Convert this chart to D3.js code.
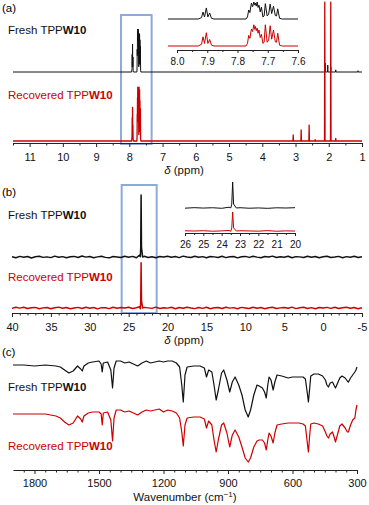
<!DOCTYPE html>
<html>
<head>
<meta charset="utf-8">
<script src="https://cdn.jsdelivr.net/npm/d3@7"></script>
<style>
  body { margin: 0; background: #fff; }
  text { font-family: "Liberation Sans", Arial, sans-serif; }
</style>
</head>
<body>
<script>
// ---------- data ----------
// (a) 1H NMR, aromatic region [ppm, intensity]
var hFreshArom = [
  [7.930,0],[7.919,0.08],[7.914,0.41],[7.909,0.12],[7.903,0.65],[7.898,0.12],[7.892,0.35],[7.886,0.04],[7.878,0],
  [7.772,0],[7.767,0.12],[7.763,0.53],[7.759,0.38],[7.754,0.94],[7.750,0.72],[7.746,1.0],[7.743,0.82],[7.741,0.94],
  [7.738,0.76],[7.735,1.0],[7.732,0.68],[7.729,0.82],[7.725,0.42],[7.721,0.7],[7.716,0.12],[7.712,0.18],[7.708,0.9],
  [7.702,0.18],[7.697,0.28],[7.692,0.88],[7.687,0.32],[7.681,0.75],[7.675,0.2],[7.671,0.18],[7.667,0.6],[7.661,0.04],[7.652,0]
];
var hRecArom = [
  [7.930,0],[7.919,0.1],[7.914,0.54],[7.909,0.15],[7.903,0.78],[7.898,0.15],[7.892,0.38],[7.886,0.05],[7.878,0],
  [7.772,0],[7.767,0.15],[7.763,0.62],[7.759,0.45],[7.754,1.0],[7.750,0.85],[7.746,1.25],[7.743,0.98],[7.741,1.15],
  [7.738,0.9],[7.735,1.06],[7.732,0.75],[7.729,0.94],[7.725,0.5],[7.721,0.69],[7.716,0.15],[7.712,0.22],[7.708,1.25],
  [7.702,0.22],[7.697,0.35],[7.692,1.19],[7.687,0.4],[7.681,0.94],[7.675,0.25],[7.671,0.22],[7.667,0.75],[7.661,0.05],[7.652,0]
];
// (a) other sharp peaks [ppm, height]
var hFreshPeaks = [[2.11,0.21],[2.03,0.16],[1.94,0.12],[1.79,0.05],[1.12,0.03]];
var hRecPeaks = [[3.07,0.14],[2.83,0.26],[2.59,0.37],[2.41,0.03],[2.12,3.23],[1.94,3.23],[1.79,0.06]];

// (b) 31P NMR: baseline noise every 0.5 ppm from 40 to -5, and the peak
var pFreshNoise = [
  0.005,-0.012,0.010,-0.003,0.008,-0.015,0.004,0.012,-0.006,0.002,
  -0.010,0.014,-0.004,0.006,-0.012,0.003,0.010,-0.008,0.015,-0.002,
  0.007,-0.011,0.002,0.012,-0.006,-0.014,0.009,0.001,-0.007,0.013,
  -0.003,0.010,-0.012,0.005,0.011,-0.009,0.003,-0.013,0.008,0.000,
  0.012,-0.005,0.007,-0.010,0.014,-0.001,-0.008,0.011,-0.004,0.006,
  -0.012,0.009,0.002,-0.007,0.013,-0.010,0.004,0.008,-0.014,0.003,
  0.010,-0.006,0.012,-0.002,-0.011,0.007,0.001,0.014,-0.009,0.005,
  -0.004,0.011,-0.013,0.006,0.002,-0.008,0.012,-0.005,0.009,-0.011,
  0.003,0.013,-0.007,0.000,0.010,-0.012,0.006,-0.003,0.011,-0.009,0.004
];
var pRecNoise = [
  -0.006,0.011,-0.002,0.013,-0.009,0.004,0.010,-0.013,0.002,0.008,
  -0.011,0.005,0.014,-0.004,0.007,-0.012,0.001,0.010,-0.007,0.012,
  -0.003,0.009,-0.014,0.006,0.003,-0.010,0.013,-0.005,0.008,-0.001,
  0.011,-0.008,0.004,-0.012,0.010,0.002,-0.006,0.014,-0.009,0.005,
  -0.002,0.012,-0.011,0.007,-0.004,0.013,0.000,-0.010,0.009,-0.006,
  0.011,-0.013,0.003,0.008,-0.007,0.012,-0.002,0.006,-0.012,0.010,
  0.001,-0.009,0.013,-0.004,0.007,-0.011,0.005,0.012,-0.008,0.002,
  0.009,-0.005,0.014,-0.010,0.003,0.011,-0.007,0.006,-0.013,0.008,
  -0.001,0.010,-0.006,0.013,-0.009,0.004,0.011,-0.003,0.007,-0.012,0.005
];
var pFreshPeak = [[23.6,0.03],[23.45,0.15],[23.4,1.0],[23.35,0.15],[23.2,0.0]];
var pRecPeak = [[23.6,0.02],[23.45,0.12],[23.4,0.73],[23.35,0.12],[23.2,0.0]];

// (c) FT-IR, stacked transmittance (a.u.)
var irWave = [1900,1850,1800,1750,1700,1680,1660,1640,1620,1600,1585,1578,1570,1550,1530,1500,1490,1485,1480,1460,
  1445,1437,1430,1420,1400,1380,1360,1340,1320,1300,1280,1260,1240,1220,1200,1180,1160,1140,1125,1115,
  1108,1100,1090,1060,1030,1010,1000,990,975,965,955,945,930,920,905,892,880,867,850,835,
  820,806,795,780,765,755,740,730,722,715,709,700,690,682,672,650,620,600,570,551,
  540,530,526,520,515,500,480,460,447,440,433,425,414,405,400,390,380,370,355,345,
  340,330,320,310,305,300];
var irFresh = [105,105,104,105,104,103,100,97,99,104,101,99,104,107,108,109,106,98,107,108,
  100,82,102,109,109,107,108,106,104,107,109,107,108,109,108,109,109,107,103,85,
  68,95,103,104,104,102,93,100,98,85,70,80,97,100,90,78,88,93,85,75,
  60,53,60,75,85,84,82,78,72,85,93,90,80,88,95,94,92,93,93,93,
  91,75,68,82,94,96,96,94,90,85,83,87,88,84,82,87,92,94,92,89,
  88,92,95,98,100,103];
var irRec = [56,56,56,56,54,52,48,45,47,54,51,48,54,57,58,58,56,45,57,58,
  50,29,52,60,60,58,59,57,55,58,60,59,60,61,58,60,59,57,52,38,
  24,45,52,53,53,51,42,49,45,30,18,30,45,47,37,23,35,40,33,23,
  12,8,12,23,29,30,30,27,20,30,37,34,27,37,45,46,47,47,47,46,
  44,25,18,35,46,47,46,44,38,34,32,36,38,32,28,36,44,46,42,38,
  38,45,50,52,60,65];

// ---------- drawing ----------
var W = 369, H = 505;
var black = "#111", red = "#cc0000", blue = "#8eaadb", axisCol = "#222";
var svg = d3.select("body").append("svg").attr("width", W).attr("height", H)
  .style("background", "#fff");

function sticks(peaks, w) {
  var pts = [];
  peaks.forEach(function(p) {
    pts.push([p[0] + w, 0], [p[0], p[1]], [p[0] - w, 0]);
  });
  return pts;
}
function byPpm(a, b) { return b[0] - a[0]; }

function addAxis(scale, y, majors, minors, majLen, minLen, pad, fs) {
  svg.append("g").attr("transform", "translate(0," + y + ")")
    .call(d3.axisBottom(scale).tickValues(minors).tickSize(minLen).tickSizeOuter(0).tickFormat(""))
    .call(function(g) { g.select(".domain").remove(); })
    .selectAll("line").attr("stroke", axisCol);
  var g = svg.append("g").attr("transform", "translate(0," + y + ")")
    .call(d3.axisBottom(scale).tickValues(majors).tickSize(majLen).tickSizeOuter(0)
      .tickPadding(pad).tickFormat(function(d) { return String(d); }));
  g.select(".domain").attr("stroke", axisCol);
  g.selectAll("line").attr("stroke", axisCol);
  g.selectAll("text").attr("font-family", "Liberation Sans, Arial, sans-serif")
    .attr("font-size", fs).attr("fill", "#111");
  return g;
}
function label(x, y, txt, color) {
  var t = svg.append("text").attr("x", x).attr("y", y).attr("font-size", 11.5).attr("fill", color);
  t.append("tspan").text(txt);
  t.append("tspan").attr("font-weight", "bold").text("W10");
}
function ppmTitle(y) {
  var t = svg.append("text").attr("x", 184).attr("y", y).attr("text-anchor", "middle")
    .attr("font-size", 11.5).attr("fill", "#111");
  t.append("tspan").attr("font-style", "italic").text("δ");
  t.append("tspan").text(" (ppm)");
}
function trace(data, x, y, color, sw) {
  svg.append("path").datum(data)
    .attr("d", d3.line().x(function(d) { return x(d[0]); }).y(function(d) { return y(d[1]); }))
    .attr("fill", "none").attr("stroke", color).attr("stroke-width", sw).attr("stroke-linejoin", "round");
}

// ----- panel (a) -----
var xA = d3.scaleLinear().domain([11.5, 1]).range([13, 362]);
var yAF = d3.scaleLinear().domain([0, 1]).range([72, 29]);
var yAR = d3.scaleLinear().domain([0, 1]).range([141, 98]);
svg.append("text").attr("x", 2).attr("y", 12).attr("font-size", 11.5).text("(a)");
svg.append("rect").attr("x", xA(8.25)).attr("y", 15).attr("width", xA(7.33) - xA(8.25)).attr("height", 129)
  .attr("fill", "none").attr("stroke", blue).attr("stroke-width", 2);
var aF = [[11.5, 0]].concat(hFreshArom, sticks(hFreshPeaks, 0.006), [[1, 0]]).sort(byPpm);
var aR = [[11.5, 0]].concat(hRecArom, sticks(hRecPeaks, 0.008), [[1, 0]]).sort(byPpm);
trace(aF, xA, yAF, black, 1);
trace(aR, xA, yAR, red, 1.3);
addAxis(xA, 143, d3.range(1, 12), d3.range(1.5, 11.6, 1), 4, 2.5, 6, 11);
ppmTitle(174);
label(8, 34, "Fresh TPP", black);
label(8, 99, "Recovered TPP", red);

// inset (a)
var xAi = d3.scaleLinear().domain([8.0, 7.6]).range([177, 298]);
var yAiF = d3.scaleLinear().domain([0, 1]).range([19, 2]);
var yAiR = d3.scaleLinear().domain([0, 1]).range([46, 29]);
trace([[8.03, 0]].concat(hFreshArom, [[7.6, 0]]), xAi, yAiF, black, 1);
trace([[8.03, 0]].concat(hRecArom, [[7.6, 0]]), xAi, yAiR, red, 1);
var ia = addAxis(xAi, 50, [8.0, 7.9, 7.8, 7.7, 7.6], [7.95, 7.85, 7.75, 7.65], 3, 2, 5, 10);
ia.selectAll("text").text(function(d) { return d.toFixed(1); });

// ----- panel (b) -----
var xB = d3.scaleLinear().domain([40, -5]).range([12, 362]);
var yBF = d3.scaleLinear().domain([0, 1]).range([257, 195]);
var yBR = d3.scaleLinear().domain([0, 1]).range([308, 246]);
var pGrid = d3.range(40, -5.01, -0.5);
var bF = pGrid.map(function(p, i) { return [p, pFreshNoise[i]]; }).concat(pFreshPeak).sort(byPpm);
var bR = pGrid.map(function(p, i) { return [p, pRecNoise[i]]; }).concat(pRecPeak).sort(byPpm);
svg.append("text").attr("x", 2).attr("y", 196).attr("font-size", 11.5).text("(b)");
svg.append("rect").attr("x", xB(25.9)).attr("y", 185).attr("width", xB(21.4) - xB(25.9)).attr("height", 128)
  .attr("fill", "none").attr("stroke", blue).attr("stroke-width", 2);
trace(bF, xB, yBF, black, 1.5);
trace(bR, xB, yBR, red, 1.5);
addAxis(xB, 313, d3.range(40, -6, -5), d3.range(39, -5, -1).filter(function(v) { return v % 5 !== 0; }), 4, 2.5, 6, 11);
ppmTitle(344);
label(8, 219, "Fresh TPP", black);
label(8, 281, "Recovered TPP", red);

// inset (b)
var xBi = d3.scaleLinear().domain([26, 20]).range([185, 295]);
var yBiF = d3.scaleLinear().domain([0, 1]).range([208, 182]);
var yBiR = d3.scaleLinear().domain([0, 1]).range([231, 205]);
var inB = function(d) { return d[0] <= 26 && d[0] >= 20; };
trace(bF.filter(inB), xBi, yBiF, black, 1);
trace(bR.filter(inB), xBi, yBiR, red, 1);
addAxis(xBi, 233, d3.range(26, 19, -1), d3.range(25.5, 20, -1), 3, 2, 5, 10);

// ----- panel (c) -----
var xC = d3.scaleLinear().domain([1900, 300]).range([13, 357]);
var yC = d3.scaleLinear().domain([0, 120]).range([470, 350]);
svg.append("text").attr("x", 2).attr("y", 356).attr("font-size", 11.5).text("(c)");
trace(irWave.map(function(w, i) { return [w, irFresh[i]]; }), xC, yC, black, 1.2);
trace(irWave.map(function(w, i) { return [w, irRec[i]]; }), xC, yC, red, 1.2);
addAxis(xC, 470, [1800, 1500, 1200, 900, 600, 300],
  d3.range(1850, 300, -50).filter(function(v) { return v % 300 !== 0; }), 4, 2.5, 5, 11);
var tc = svg.append("text").attr("x", 185).attr("y", 501).attr("text-anchor", "middle")
  .attr("font-size", 11.5).attr("fill", "#111");
tc.append("tspan").text("Wavenumber (cm");
tc.append("tspan").attr("font-size", 8).attr("dy", -4).text("\u22121");
tc.append("tspan").attr("dy", 4).text(")");
label(8, 391, "Fresh TPP", black);
label(8, 450, "Recovered TPP", red);
</script>
</body>
</html>
